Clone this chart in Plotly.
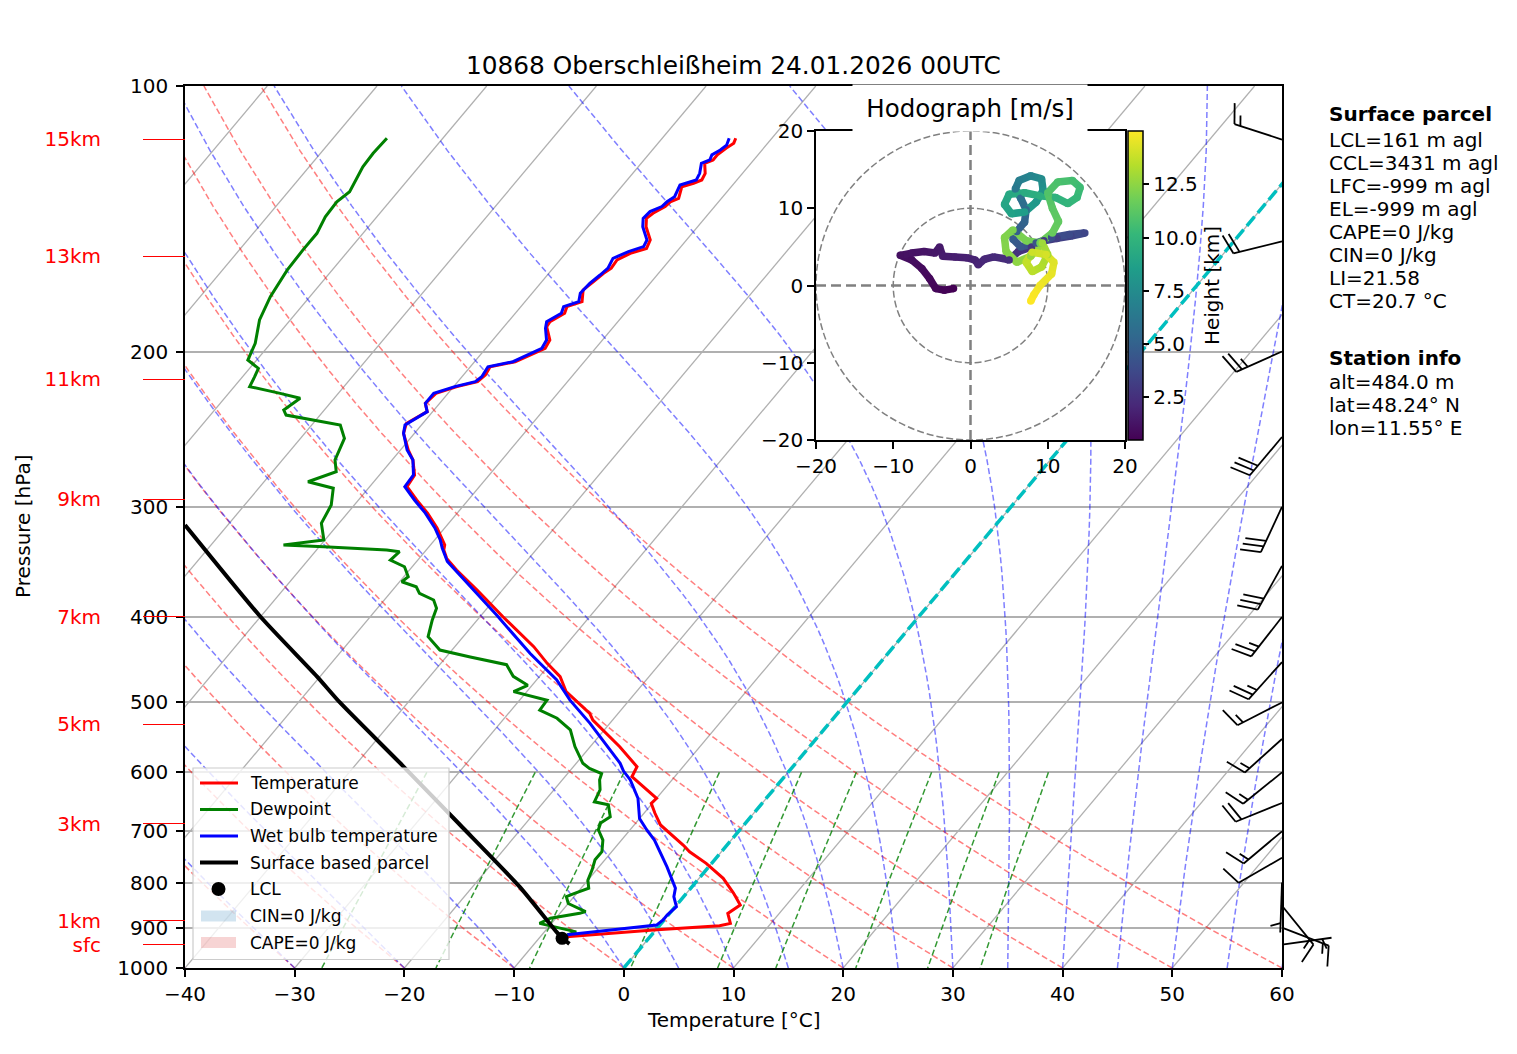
import numpy as np
import plotly.graph_objects as go
from plotly.colors import sample_colorscale

FIG_W, FIG_H = 1517, 1054
PAGE_PAD = 8           # the html body margin shifts the figure by this much
SKEW = 67.5            # degC shift per decade of pressure (skewed x axis)
DECADE_PX = 882        # height of one pressure decade on the main axes, px
FONT = "DejaVu Sans"

# ---------------- sounding 10868 ----------------
t_p = [114.6, 116.1, 117.6, 119.7, 121.3, 122.4, 125.6, 127.8, 128.9, 130.1, 134.1, 135.3, 137.0, 139.4,
       141.3, 144.4, 149.5, 152.8, 154.8, 157.5, 160.9, 163.1, 166.7, 170.3, 175.6, 177.9, 181.0, 185.0,
       187.5, 194.1, 198.3, 202.7, 205.4, 208.1, 212.7, 216.4, 219.2, 223.1, 229.0, 234.0, 241.3, 247.6,
       258.6, 265.5, 276.1, 284.6, 294.7, 305, 317, 331.4, 335.8, 343.2, 353.8, 372.8, 399.7, 432.2,
       451.4, 467.4, 486.1, 514.3, 523.4, 561.3, 591.3, 606.9, 628.4, 642.1, 650.6, 667.7, 688.4, 725.4,
       738.2, 760.9, 791.3, 822.9, 848.5, 867.1, 890.0, 895.6, 905.7, 921.6]
t_c = [-53.3, -53.1, -53.4, -53.7, -53.7, -54.2, -53.4, -53.2, -53.7, -54.5, -53.9, -54.4, -54.5, -55.1,
       -55.3, -54.7, -53.3, -53.0, -54.1, -54.8, -54.7, -55.0, -55.3, -55.6, -54.8, -55.8, -55.5, -56.2,
       -56.1, -54.8, -54.6, -55.6, -56.3, -58.2, -58.0, -58.2, -59.7, -61.1, -61.3, -60.5, -61.5, -61.0,
       -59.3, -58.1, -56.8, -56.6, -54.7, -52.7, -50.7, -48.7, -48.4, -47.5, -45.7, -42.3, -37.9, -32.8,
       -30.3, -28.1, -26.4, -22.6, -21.8, -17.3, -14.2, -13.9, -11.5, -10.0, -10.1, -9.0, -7.6, -4.0,
       -2.9, -0.5, 2.2, 4.3, 5.8, 5.3, 6.3, 5.5, -0.2, -7.6]

td_p = [114.6, 119.2, 123.5, 131.8, 135.3, 140.7, 146.9, 153.4, 161.7, 173.3, 184.2, 195.8, 204.5, 209.0,
        213.6, 219.2, 223.1, 226.0, 233.0, 236.1, 242.3, 250.9, 265.5, 273.7, 281.0, 285.8, 298.6, 313.2,
        327.1, 331.4, 332.9, 335.8, 337.3, 344.7, 350.8, 360.0, 364.8, 369.6, 376.0, 382.6, 391.0, 403,
        421, 436, 444, 453, 467, 478, 486, 497, 510, 521, 537, 561, 586, 594, 602, 612, 628, 648, 653,
        674, 685, 697, 716, 738, 754, 774, 795, 812, 823, 830, 845, 863, 867, 878, 890, 898, 910, 917]
td_c = [-85.1, -85.2, -85.1, -84.4, -84.8, -84.7, -84.2, -84.2, -84.1, -83.6, -82.8, -81.4, -80.8, -79.2,
        -78.9, -78.6, -75.3, -73.1, -73.7, -73.1, -67.4, -66.0, -65.2, -64.2, -66.0, -63.2, -62.1, -61.6,
        -60.1, -63.4, -59.6, -53.6, -52.3, -52.5, -50.7, -49.6, -49.8, -48.1, -47.3, -45.5, -44.6, -44.1,
        -43.2, -41.1, -37.8, -33.9, -32.4, -30.4, -31.2, -27.5, -27.4, -25.2, -23.1, -21.4, -19.4, -18.4,
        -16.9, -16.6, -15.8, -15.4, -13.9, -12.8, -13.2, -12.9, -11.7, -10.9, -10.9, -10.4, -10.0, -9.3,
        -10.2, -10.7, -10.0, -7.8, -8.2, -10.5, -11.1, -9.6, -7.1, -7.7]

tw_p = [114.6, 116.7, 118.2, 119.7, 121.3, 122.4, 125.6, 127.8, 129.5, 133.5, 135.3, 137.0, 138.8, 141.3,
        144.4, 149.5, 152.1, 154.1, 156.8, 160.9, 163.8, 167.4, 171.8, 175.6, 177.9, 181.0, 185.0, 188.2,
        194.1, 198.3, 202.7, 205.4, 208.1, 213.6, 216.4, 219.2, 223.1, 229.0, 234.0, 242.3, 247.6, 258.6,
        265.5, 276.1, 284.6, 294.7, 305, 317, 327, 334, 346, 398, 440, 471, 497, 528, 586, 598, 612, 642,
        677, 697, 716, 768, 812, 830, 852, 871, 882, 894, 917]
tw_c = [-53.9, -53.6, -53.8, -54.2, -54.0, -54.5, -53.9, -53.7, -54.8, -54.4, -54.7, -54.8, -55.5, -55.6,
        -55.0, -53.6, -53.4, -54.4, -55.3, -55.0, -55.2, -55.5, -55.6, -55.1, -56.1, -55.8, -56.5, -56.1,
        -55.1, -54.9, -55.9, -56.5, -58.4, -58.2, -58.4, -59.9, -61.3, -61.3, -60.5, -61.5, -61.0, -59.4,
        -58.1, -56.9, -56.8, -54.9, -52.9, -50.9, -49.5, -48.7, -47.2, -38.6, -32.6, -28.2, -25.4, -21.8,
        -16.0, -15.1, -13.8, -11.7, -10.0, -8.5, -7.0, -3.8, -1.4, -0.9, 0.1, -0.1, -0.1, -0.3, -7.7]

parcel_p = [939, 925, 910, 809, 688, 591, 500, 467, 399.7, 314.6]
parcel_c = [-6.8, -7.9, -8.9, -15.7, -25.9, -35.5, -46.2, -50.3, -60.0, -73.9]
lcl_p, lcl_c = 925.4, -7.9

height_p = [114.9, 155.9, 215.1, 294.2, 399.7, 528.9, 686.6, 883.8, 941.7]
height_lbl = ["15km", "13km", "11km", "9km", "7km", "5km", "3km", "1km", "sfc"]

# wind barbs: pressure [hPa], direction [deg], speed [kt]
barb_p = [115, 150, 200, 250, 300, 350, 400, 450, 500, 550, 600, 650, 700, 750, 800, 850, 900, 941]
barb_dir = [288, 256, 246, 220, 205, 209, 218, 222, 243, 228, 231, 248, 230, 240, 182, 141, 111, 82]
barb_spd = [15, 20, 25, 30, 30, 30, 25, 25, 15, 15, 15, 20, 15, 10, 5, 15, 15, 5]

# hodograph: height [km], u, v [m/s]
hodo_h = [0.5, 0.6, 0.7, 0.8, 0.9, 1.0, 1.1, 1.2, 1.3, 1.4, 1.5, 1.6, 1.7, 1.8, 1.9, 2.0, 2.1, 2.2, 2.3,
          2.4, 2.6, 2.8, 3.0, 3.2, 3.4, 3.6, 3.8, 4.0, 4.2, 4.4, 4.6, 4.8, 5.1, 5.5, 5.9, 6.3, 6.7, 7.1,
          7.5, 7.9, 8.2, 8.5, 8.8, 9.0, 9.2, 9.4, 9.6, 9.8, 10.0, 10.2, 10.4, 10.6, 10.8, 11.0, 11.2, 11.4,
          11.6, 11.8, 12.0, 12.1, 12.2, 12.3, 12.5, 12.7, 12.9, 13.1, 13.3, 13.5, 13.7, 13.9, 14.1, 14.3,
          14.5, 14.7, 14.9, 15.0]
hodo_u = [-2.2, -3.4, -4.5, -5.3, -6.3, -7.6, -9.1, -7.6, -6.0, -4.6, -4.0, -3.6, -2.0, -0.5, 0.6, 1.0,
          1.8, 3.0, 4.2, 5.0, 6.2, 7.9, 9.5, 11.2, 13.0, 14.8, 12.8, 10.5, 8.5, 6.5, 5.5, 6.0, 7.0, 7.2,
          6.5, 5.8, 6.3, 7.8, 9.2, 9.4, 8.5, 7.0, 5.3, 4.4, 5.0, 7.0, 9.0, 11.0, 12.6, 13.8, 14.2, 13.2,
          11.3, 10.0, 10.6, 11.4, 10.6, 9.0, 7.2, 5.5, 4.4, 4.6, 6.0, 7.8, 9.3, 10.0, 9.2, 8.0, 7.2, 8.0,
          9.8, 10.8, 10.5, 9.0, 8.2, 7.8]
hodo_v = [-0.4, -0.6, -0.4, 0.9, 2.2, 3.3, 3.9, 4.2, 4.4, 4.2, 5.0, 3.8, 3.7, 3.6, 3.3, 2.7, 3.4, 3.7,
          3.5, 3.3, 4.4, 5.0, 5.8, 6.1, 6.4, 6.8, 6.6, 6.2, 5.5, 5.0, 6.0, 7.0, 8.2, 9.8, 11.3, 12.5, 13.6,
          14.2, 13.8, 12.3, 10.8, 9.5, 9.3, 10.5, 11.8, 12.0, 11.6, 11.4, 10.6, 11.4, 12.7, 13.6, 13.4,
          12.0, 10.0, 8.3, 6.8, 5.5, 5.8, 7.2, 6.2, 4.4, 3.0, 3.8, 5.5, 4.0, 2.4, 1.8, 3.0, 4.3, 4.0, 3.0,
          1.5, 0.0, -1.2, -2.0]
hodo_hmin, hodo_hmax = 0.5, 15.0

title = "10868 Oberschleißheim 24.01.2026 00UTC"
info_lines = ["<b>Surface parcel</b>", "LCL=161 m agl", "CCL=3431 m agl", "LFC=-999 m agl",
              "EL=-999 m agl", "CAPE=0 J/kg", "CIN=0 J/kg", "LI=21.58", "CT=20.7 °C",
              "<b>Station info</b>", "alt=484.0 m", "lat=48.24° N", "lon=11.55° E"]
info_y = [114, 140, 163, 186, 209, 232, 255, 278, 301, 358, 382, 405, 428]   # px from top

legend_lbl = ["Temperature", "Dewpoint", "Wet bulb temperature", "Surface based parcel", "LCL",
              "CIN=0 J/kg", "CAPE=0 J/kg"]

x_ticks = list(range(-40, 61, 10))
p_ticks = list(range(100, 1001, 100))


def skew(t, p):
    return np.asarray(t, float) + SKEW * np.log10(1000.0 / np.asarray(p, float))


def px_x(px):
    return (px - PAGE_PAD) / FIG_W


def px_y(py):
    return 1 - (py - PAGE_PAD) / FIG_H


def minus(v):
    return str(v).replace("-", "\u2212")


def joined(lines):
    xs, ys = [], []
    for x, y in lines:
        xs += list(x) + [None]
        ys += list(y) + [None]
    return xs, ys


# ---------------- thermodynamic background lines ----------------
RD, CP, LV, EPS = 287.04749, 1004.6662, 2.50084e6, 0.621957
p_bg = np.linspace(1000, 100, 50)


def sat_mr(p, tk):
    es = 6.112 * np.exp(17.67 * (tk - 273.15) / (tk - 29.65))
    return EPS * es / (p - es)


def moist_dt(p, tk):
    rs = sat_mr(p, tk)
    return (RD * tk + LV * rs) / (CP + LV * LV * rs * EPS / (RD * tk * tk)) / p


def moist_line(t0):
    out = [t0 + 273.15]
    for p0, p1 in zip(p_bg[:-1], p_bg[1:]):
        tk = out[-1]
        sub = np.linspace(p0, p1, 5)
        for a, b in zip(sub[:-1], sub[1:]):
            h = b - a
            k1 = moist_dt(a, tk)
            k2 = moist_dt(a + h / 2, tk + h / 2 * k1)
            k3 = moist_dt(a + h / 2, tk + h / 2 * k2)
            k4 = moist_dt(b, tk + h * k3)
            tk = tk + h / 6 * (k1 + 2 * k2 + 2 * k3 + k4)
        out.append(tk)
    return np.array(out) - 273.15


iso = joined([([t, t + SKEW], [1000, 100]) for t in range(-110, 61, 10)])
dry = joined([(skew((t0 + 273.15) * (p_bg / 1000) ** (RD / CP) - 273.15, p_bg), p_bg)
              for t0 in range(-40, 61, 10)])
moist = joined([(skew(moist_line(t0), p_bg), p_bg)
                for t0 in list(range(-40, 0, 10)) + list(range(0, 61, 5))])
p_mix = np.linspace(600, 1000, 50)
mix_lines = []
for w in [0.0004, 0.001, 0.002, 0.004, 0.007, 0.01, 0.016, 0.024, 0.032]:
    lg = np.log(p_mix * w / (EPS + w) / 6.112)
    mix_lines.append((skew(243.5 * lg / (17.67 - lg), p_mix), p_mix))
mix = joined(mix_lines)

fig = go.Figure()


def bg_line(xy, color, width, dash="solid"):
    fig.add_trace(go.Scatter(x=xy[0], y=xy[1], mode="lines", showlegend=False, hoverinfo="skip",
                             line=dict(color=color, width=width, dash=dash)))


bg_line(iso, "#b0b0b0", 1.3)
bg_line(dry, "rgba(255,0,0,0.5)", 1.5, "6px,3px")
bg_line(moist, "rgba(0,0,255,0.5)", 1.5, "6px,3px")
bg_line(mix, "rgba(0,128,0,0.8)", 1.5, "6px,3px")
bg_line(([0, SKEW], [1000, 100]), "rgb(0,191,191)", 3.5, "12px,5px")

# ---------------- profiles ----------------
fig.add_trace(go.Scatter(x=skew(t_c, t_p), y=t_p, mode="lines", name=legend_lbl[0],
                         line=dict(color="red", width=3)))
fig.add_trace(go.Scatter(x=skew(td_c, td_p), y=td_p, mode="lines", name=legend_lbl[1],
                         line=dict(color="green", width=3)))
fig.add_trace(go.Scatter(x=skew(tw_c, tw_p), y=tw_p, mode="lines", name=legend_lbl[2],
                         line=dict(color="blue", width=3)))
fig.add_trace(go.Scatter(x=skew(parcel_c, parcel_p), y=parcel_p, mode="lines", name=legend_lbl[3],
                         line=dict(color="black", width=4, shape="spline", smoothing=0.6)))
fig.add_trace(go.Scatter(x=skew([lcl_c], [lcl_p]), y=[lcl_p], mode="markers", name=legend_lbl[4],
                         marker=dict(color="black", size=13)))
# carrier for the red height axis
fig.add_trace(go.Scatter(x=[None], y=[None], yaxis="y4", hoverinfo="skip"))

# ---------------- wind barbs ----------------
BARB_LEN = 50.0


def barb_xy(p, wdir, wspd):
    d = np.radians(wdir)
    s = np.array([np.sin(d), -np.cos(d)])    # along the staff (screen px, y down)
    n = np.array([np.cos(d), np.sin(d)])     # side the barbs go to
    segs = [(np.zeros(2), BARB_LEN * s)]
    full, rest = divmod(int(round(wspd / 5.0)) * 5, 10)
    off = BARB_LEN
    for _ in range(full):
        root = off * s
        segs.append((root, root + 0.4 * BARB_LEN * n + 0.125 * BARB_LEN * s))
        off -= 0.125 * BARB_LEN
    if rest >= 5:
        if off == BARB_LEN:
            off -= 1.5 * 0.125 * BARB_LEN
        root = off * s
        segs.append((root, root + 0.2 * BARB_LEN * n + 0.0625 * BARB_LEN * s))
    xs, ys = [], []
    for a, b in segs:
        for q in (a, b):
            xs.append(q[0])
            ys.append(p * 10 ** (q[1] / DECADE_PX))
        xs.append(None)
        ys.append(None)
    return xs, ys


bx, by = [], []
for p, wd, ws in zip(barb_p, barb_dir, barb_spd):
    x, y = barb_xy(p, wd, ws)
    bx += x
    by += y
fig.add_trace(go.Scatter(x=bx, y=by, xaxis="x2", yaxis="y2", mode="lines", hoverinfo="skip",
                         line=dict(color="black", width=1.8)))

# ---------------- hodograph ----------------
frac = [(h - hodo_hmin) / (hodo_hmax - hodo_hmin) for h in hodo_h]
seg_cols = sample_colorscale("Viridis", [(a + b) / 2 for a, b in zip(frac[:-1], frac[1:])])
for i, c in enumerate(seg_cols):
    fig.add_trace(go.Scatter(x=hodo_u[i:i + 2], y=hodo_v[i:i + 2], xaxis="x3", yaxis="y3", mode="lines",
                             hoverinfo="skip", line=dict(color=c, width=7.5)))
fig.add_trace(go.Scatter(
    x=hodo_u, y=hodo_v, xaxis="x3", yaxis="y3", mode="markers", hoverinfo="skip",
    marker=dict(size=7.5, color=hodo_h, colorscale="Viridis", cmin=hodo_hmin, cmax=hodo_hmax,
                colorbar=dict(x=px_x(1128), xanchor="left", y=px_y(285.5), yanchor="middle",
                              len=309, lenmode="pixels", thickness=15, xpad=0, ypad=0,
                              outlinecolor="black", outlinewidth=1.5,
                              tickvals=[2.5, 5, 7.5, 10, 12.5],
                              ticktext=["2.5", "5.0", "7.5", "10.0", "12.5"],
                              ticks="outside", ticklen=6, tickwidth=1.5, tickcolor="black",
                              tickfont=dict(size=20, family=FONT),
                              title=dict(text="Height [km]", side="right",
                                         font=dict(size=20, family=FONT))))))

shapes = [dict(type="rect", xref="x3", yref="y3", x0=-20, x1=20, y0=-20, y1=20, layer="below",
               fillcolor="white", line=dict(width=0))]
for r in (10, 20):
    shapes.append(dict(type="circle", xref="x3", yref="y3", x0=-r, x1=r, y0=-r, y1=r, layer="below",
                       line=dict(color="grey", width=1.5, dash="7px,3px")))
shapes.append(dict(type="line", xref="x3", yref="y3", x0=0, x1=0, y0=-20, y1=20, layer="below",
                   line=dict(color="grey", width=2.5, dash="10px,5px")))
shapes.append(dict(type="line", xref="x3", yref="y3", x0=-20, x1=20, y0=0, y1=0, layer="below",
                   line=dict(color="grey", width=2.5, dash="10px,5px")))


# ---------------- legend (drawn by hand, matplotlib style) ----------------
def paper_rect(x0, y0, x1, y1, **kw):
    return dict(type="rect", xref="paper", yref="paper", layer="above",
                x0=px_x(x0), x1=px_x(x1), y0=px_y(y1), y1=px_y(y0), **kw)


leg_y = [783, 809.5, 836, 862.5, 889, 916, 942.5]
shapes.append(paper_rect(193, 768, 449, 959.5, fillcolor="rgba(255,255,255,0.8)",
                         line=dict(color="#cccccc", width=1.2)))
for yy, col, wd in zip(leg_y[:4], ["red", "green", "blue", "black"], [3, 3, 3, 4]):
    shapes.append(dict(type="line", xref="paper", yref="paper", layer="above", x0=px_x(200),
                       x1=px_x(238), y0=px_y(yy), y1=px_y(yy), line=dict(color=col, width=wd)))
shapes.append(dict(type="circle", xref="paper", yref="paper", layer="above", x0=px_x(211.5),
                   x1=px_x(225.5), y0=px_y(leg_y[4] + 7), y1=px_y(leg_y[4] - 7),
                   fillcolor="black", line=dict(width=0)))
shapes.append(paper_rect(201, leg_y[5] - 5.5, 236, leg_y[5] + 5.5, fillcolor="rgba(31,119,180,0.2)",
                         line=dict(width=0)))
shapes.append(paper_rect(201, leg_y[6] - 5.5, 236, leg_y[6] + 5.5, fillcolor="rgba(214,39,40,0.2)",
                         line=dict(width=0)))

# ---------------- annotations ----------------
ann = [
    dict(text=title, x=px_x(733.5), y=px_y(65), font=dict(size=24.8)),
    dict(text="Temperature [°C]", x=px_x(733.5), y=px_y(1020), font=dict(size=20)),
    dict(text="Pressure [hPa]", x=px_x(23), y=px_y(527), textangle=-90, font=dict(size=20)),
    dict(text="Hodograph [m/s]", x=px_x(970), y=px_y(108.5), font=dict(size=24.5), bgcolor="white",
         width=232, height=44),
]
for txt, yy in zip(info_lines, info_y):
    ann.append(dict(text=txt, x=px_x(1327), y=px_y(yy), xanchor="left", font=dict(size=20)))
for txt, yy in zip(legend_lbl, leg_y):
    ann.append(dict(text=txt, x=px_x(248), y=px_y(yy), xanchor="left", font=dict(size=17)))
for a in ann:
    a.update(xref="paper", yref="paper", showarrow=False)
    a.setdefault("xanchor", "center")
    a.setdefault("yanchor", "middle")

main_y = [px_y(968), px_y(86)]
axis_common = dict(showline=True, mirror=True, linecolor="black", linewidth=1.6, ticks="outside",
                   ticklen=7, tickwidth=1.6, tickcolor="black", zeroline=False,
                   tickfont=dict(size=20, family=FONT))

fig.update_layout(
    width=FIG_W, height=FIG_H, margin=dict(l=0, r=0, t=0, b=0, autoexpand=False),
    paper_bgcolor="white", plot_bgcolor="rgba(0,0,0,0)",
    font=dict(family=FONT, size=20, color="black"),
    hovermode=False, showlegend=False,
    xaxis=dict(domain=[px_x(185), px_x(1282)], range=[-40, 60], tickvals=x_ticks,
               ticktext=[minus(v) for v in x_ticks], showgrid=False, anchor="y", **axis_common),
    yaxis=dict(domain=main_y, type="log", range=[3, 2], tickvals=p_ticks,
               ticktext=[str(v) for v in p_ticks], showgrid=True, gridcolor="#b0b0b0", gridwidth=1.6,
               anchor="x", ticklabelstandoff=4, **axis_common),
    yaxis4=dict(overlaying="y", anchor="free", position=px_x(185), side="left", type="log", range=[3, 2],
                tickvals=height_p, ticktext=height_lbl, ticks="outside", ticklen=42, tickwidth=1.3,
                tickcolor="red", tickfont=dict(size=20, color="red", family=FONT), showgrid=False,
                showline=False, zeroline=False, ticklabelstandoff=38),
    xaxis2=dict(domain=[px_x(1182), px_x(1382)], range=[-100, 100], visible=False, anchor="y2"),
    yaxis2=dict(domain=main_y, type="log", range=[3, 2], visible=False, anchor="x2"),
    xaxis3=dict(domain=[px_x(816), px_x(1125)], range=[-20, 20], tickvals=[-20, -10, 0, 10, 20],
                ticktext=[minus(v) for v in [-20, -10, 0, 10, 20]], showgrid=False, anchor="y3",
                **axis_common),
    yaxis3=dict(domain=[px_y(440), px_y(131)], range=[-20, 20], tickvals=[-20, -10, 0, 10, 20],
                ticktext=[minus(v) for v in [-20, -10, 0, 10, 20]], showgrid=False, anchor="x3",
                **axis_common),
    shapes=shapes,
    annotations=ann,
)

fig.write_html("out.html")
